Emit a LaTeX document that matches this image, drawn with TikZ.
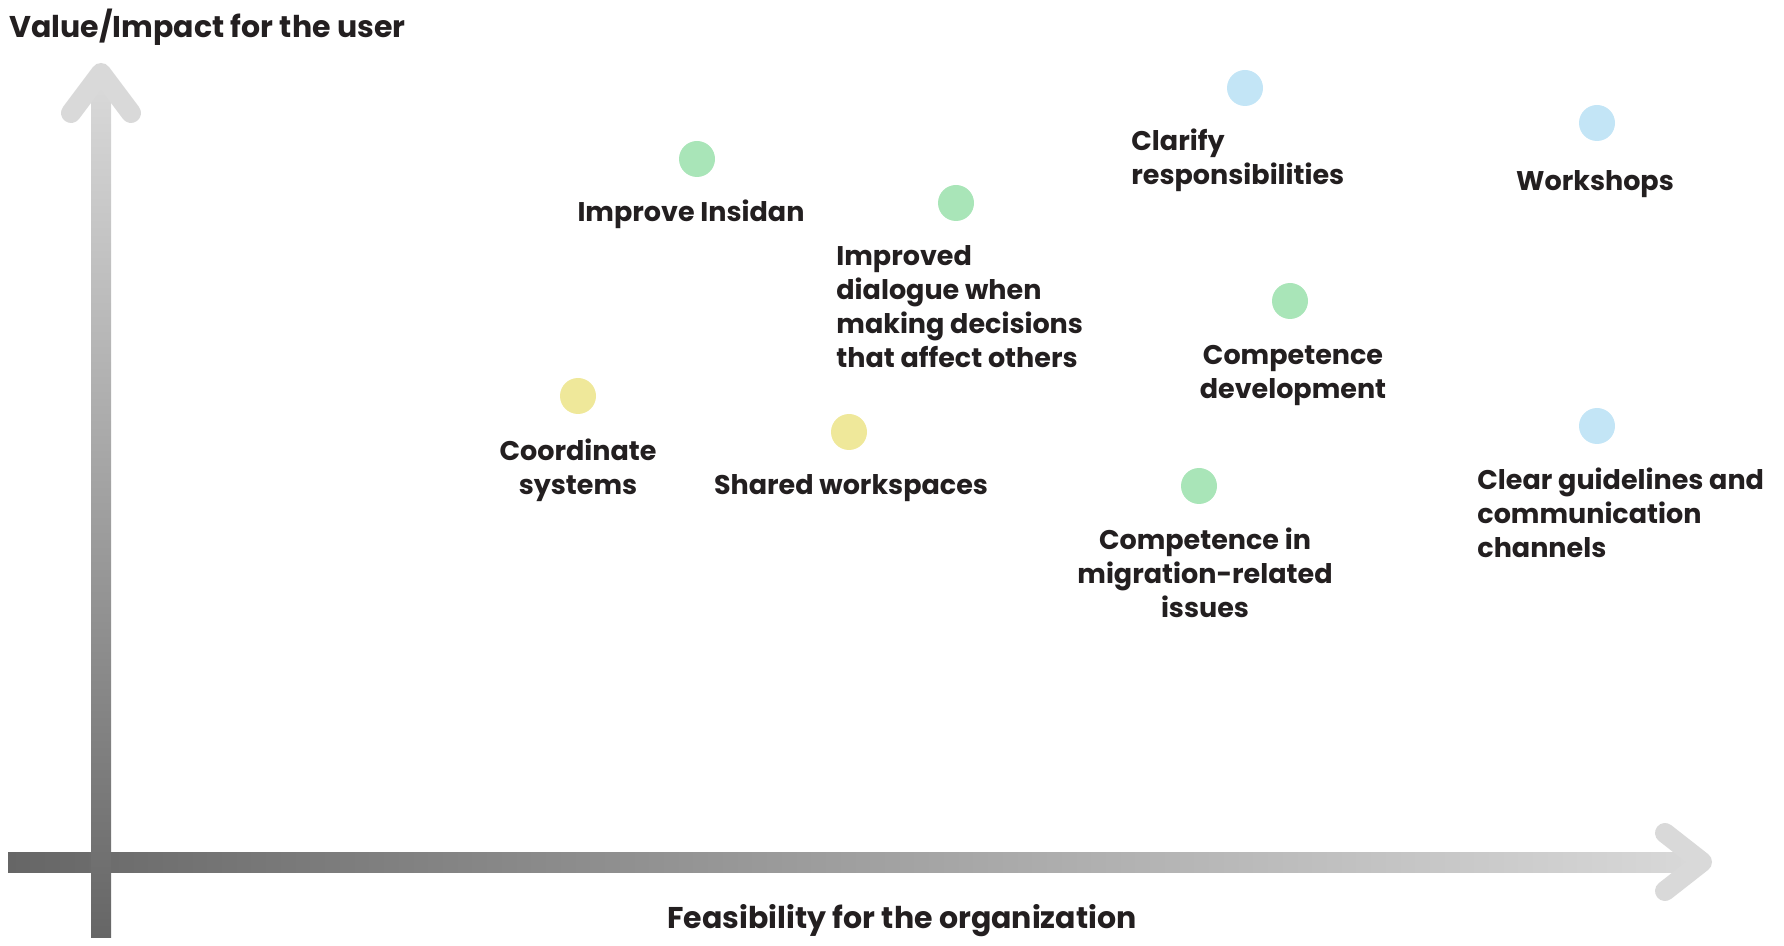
\documentclass[tikz,border=0pt]{standalone}
\usepackage{fontspec}
\setmainfont{Poppins}
\usepackage{xcolor}
\definecolor{ink}{HTML}{231F20}
\definecolor{axdark}{HTML}{666666}
\definecolor{axlight}{HTML}{D9D9D9}
\definecolor{mint}{HTML}{A9E5B8}
\definecolor{sand}{HTML}{EFE89A}
\definecolor{sky}{HTML}{C3E5F6}
\begin{document}
\begin{tikzpicture}[x=0.5pt,y=-0.5pt,
  lbl/.style={text=ink,font=\fontsize{13.5}{17}\selectfont\bfseries,inner sep=0pt},
  axlbl/.style={lbl,font=\fontsize{15}{18}\selectfont\bfseries},
  dot/.style={circle,inner sep=0pt,minimum size=18pt},
  chev/.style={axlight,line width=10pt,line cap=round,line join=round}]
\useasboundingbox (0,0) rectangle (1784,946);
\coordinate (o) at (101,862);
\coordinate (xtip) at (1702,862);
\coordinate (ytip) at (101,73);
\shade[left color=axdark,right color=axlight] (8,852) rectangle ([yshift=-5pt]xtip);
\draw[chev] ([shift={(-37,-29)}]xtip) -- (xtip) -- ([shift={(-37,29)}]xtip);
\shade[bottom color=axdark,top color=axlight] (91,937) rectangle ([shift={(5pt,-5pt)}]ytip);
\draw[chev] ([shift={(-30,40)}]ytip) -- (ytip) -- ([shift={(30,40)}]ytip);
\node[axlbl,anchor=west] (ttl) at (9,27) {Value/Impact for the user};
\node[axlbl] (xlab) at (902,921) {Feasibility for the organization};
\node[dot,fill=mint] (ins) at (697,159) {};
\node[dot,fill=mint] (dia) at (956,203) {};
\node[dot,fill=sky] (cla) at (1245,88) {};
\node[dot,fill=sky] (wks) at (1597,123) {};
\node[dot,fill=mint] (com) at (1290,301) {};
\node[dot,fill=sand] (crd) at (578,396) {};
\node[dot,fill=sand] (shr) at (849,432) {};
\node[dot,fill=mint] (mig) at (1199,486) {};
\node[dot,fill=sky] (gui) at (1597,426) {};
\node[lbl] (insl) at (691,214) {Improve Insidan};
\node[lbl,align=left,anchor=west] (dial) at (836,307) {Improved\\dialogue when\\making decisions\\that affect others};
\node[lbl,align=left,anchor=west] (clal) at (1131,160) {Clarify\\responsibilities};
\node[lbl] (wksl) at (1595,184) {Workshops};
\node[lbl,align=center] (coml) at (1293,376) {Competence\\development};
\node[lbl,align=center] (crdl) at (578,470) {Coordinate\\systems};
\node[lbl] (shrl) at (851,488) {Shared workspaces};
\node[lbl,align=center] (migl) at (1205,573) {Competence in\\migration-related\\issues};
\node[lbl,align=left,anchor=west] (guil) at (1477,513) {Clear guidelines and\\communication\\channels};
\end{tikzpicture}
\end{document}
